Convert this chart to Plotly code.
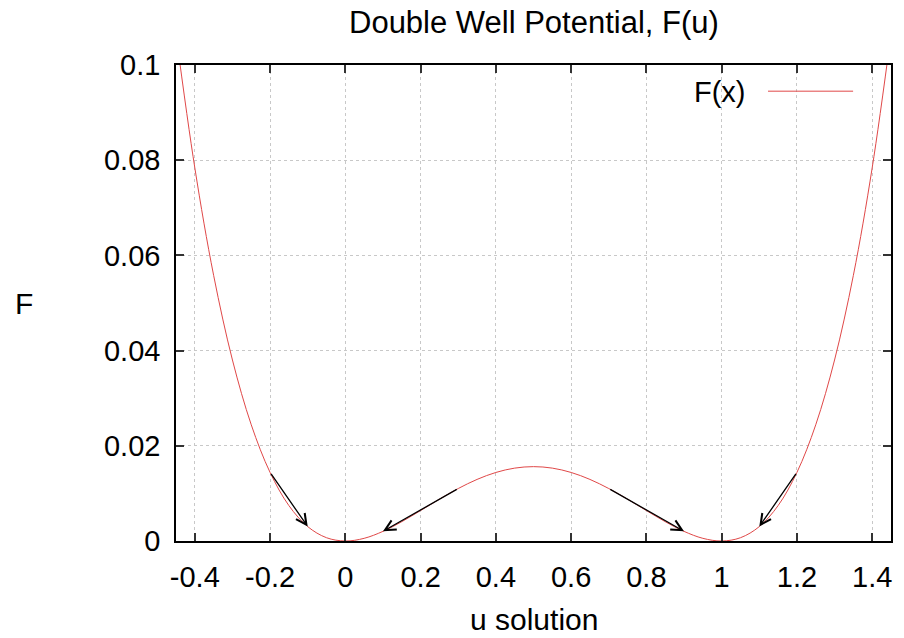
import plotly.graph_objects as go

# Curve samples (u, F)
u_vals = [-0.45, -0.40, -0.35, -0.30, -0.25, -0.20, -0.15, -0.10, -0.05, 0.00,
          0.05, 0.10, 0.15, 0.20, 0.25, 0.30, 0.35, 0.40, 0.45, 0.50,
          0.55, 0.60, 0.65, 0.70, 0.75, 0.80, 0.85, 0.90, 0.95, 1.00,
          1.05, 1.10, 1.15, 1.20, 1.25, 1.30, 1.35, 1.40, 1.45]
F_vals = [0.10645, 0.0784, 0.05581, 0.038025, 0.024414, 0.0144, 0.007439, 0.003025, 0.000689, 0.0,
          0.000564, 0.002025, 0.004064, 0.0064, 0.008789, 0.011025, 0.012939, 0.0144, 0.015314, 0.015625,
          0.015314, 0.0144, 0.012939, 0.011025, 0.008789, 0.0064, 0.004064, 0.002025, 0.000564, 0.0,
          0.000689, 0.003025, 0.007439, 0.0144, 0.024414, 0.038025, 0.05581, 0.0784, 0.10645]

# Arrows (start -> end) in data coordinates
arrow_u0 = [-0.2, 0.3, 0.7, 1.2]
arrow_F0 = [0.0144, 0.011025, 0.011025, 0.0144]
arrow_u1 = [-0.1, 0.1, 0.9, 1.1]
arrow_F1 = [0.003025, 0.002025, 0.002025, 0.003025]

x_ticks = [-0.4, -0.2, 0, 0.2, 0.4, 0.6, 0.8, 1, 1.2, 1.4]
x_ticktext = ["-0.4", "-0.2", "0", "0.2", "0.4", "0.6", "0.8", "1", "1.2", "1.4"]
y_ticks = [0, 0.02, 0.04, 0.06, 0.08, 0.1]
y_ticktext = ["0", "0.02", "0.04", "0.06", "0.08", "0.1"]

FONT = "Liberation Sans, Arial, sans-serif"

fig = go.Figure()
fig.add_trace(go.Scatter(x=u_vals, y=F_vals, mode="lines", name="F(x)",
                         line=dict(color="#e04848", width=1, shape="spline"),
                         showlegend=False))

for a0, b0, a1, b1 in zip(arrow_u0, arrow_F0, arrow_u1, arrow_F1):
    fig.add_annotation(x=a1, y=b1, ax=a0, ay=b0, xref="x", yref="y",
                       axref="x", ayref="y", text="", showarrow=True,
                       arrowhead=5, arrowsize=1.6, arrowwidth=1.3,
                       arrowcolor="black", standoff=0)

axis_common = dict(showline=True, linecolor="black", linewidth=1.5, mirror="ticks",
                   ticks="inside", ticklen=8, tickwidth=1.5, tickcolor="#333",
                   showgrid=True, gridcolor="#c8c8c8", griddash="dot", gridwidth=1,
                   zeroline=False, tickfont=dict(family=FONT, size=29, color="black"))

fig.update_xaxes(range=[-0.45, 1.45], tickvals=x_ticks, ticktext=x_ticktext,
                 ticklabelstandoff=9, **axis_common)
fig.update_yaxes(range=[0, 0.1], tickvals=y_ticks, ticktext=y_ticktext,
                 ticklabelstandoff=8, **axis_common)

# Legend sample
fig.add_annotation(x=0.8005, y=0.943, xref="paper", yref="paper", text="F(x)",
                   showarrow=False, xanchor="right", yanchor="middle",
                   font=dict(family=FONT, size=29, color="black"))
fig.add_shape(type="line", xref="paper", yref="paper", x0=0.828, x1=0.947, y0=0.945, y1=0.945,
              line=dict(color="#e04848", width=1))

# Titles
fig.add_annotation(x=0.5, y=1.0, xref="paper", yref="paper", yshift=43, text="Double Well Potential, F(u)",
                   showarrow=False, xanchor="center", yanchor="middle",
                   font=dict(family=FONT, size=31, color="black"))
fig.add_annotation(x=0.5, y=0, xref="paper", yref="paper", yshift=-78, text="u solution",
                   showarrow=False, xanchor="center", yanchor="middle",
                   font=dict(family=FONT, size=30, color="black"))
fig.add_annotation(x=0, y=0.5, xref="paper", yref="paper", xshift=-152, text="F",
                   showarrow=False, xanchor="center", yanchor="middle",
                   font=dict(family=FONT, size=30, color="black"))

fig.update_layout(width=904, height=638, margin=dict(l=176, r=11, t=65, b=97),
                  plot_bgcolor="white", paper_bgcolor="white", showlegend=False)

fig.write_html("out.html")
